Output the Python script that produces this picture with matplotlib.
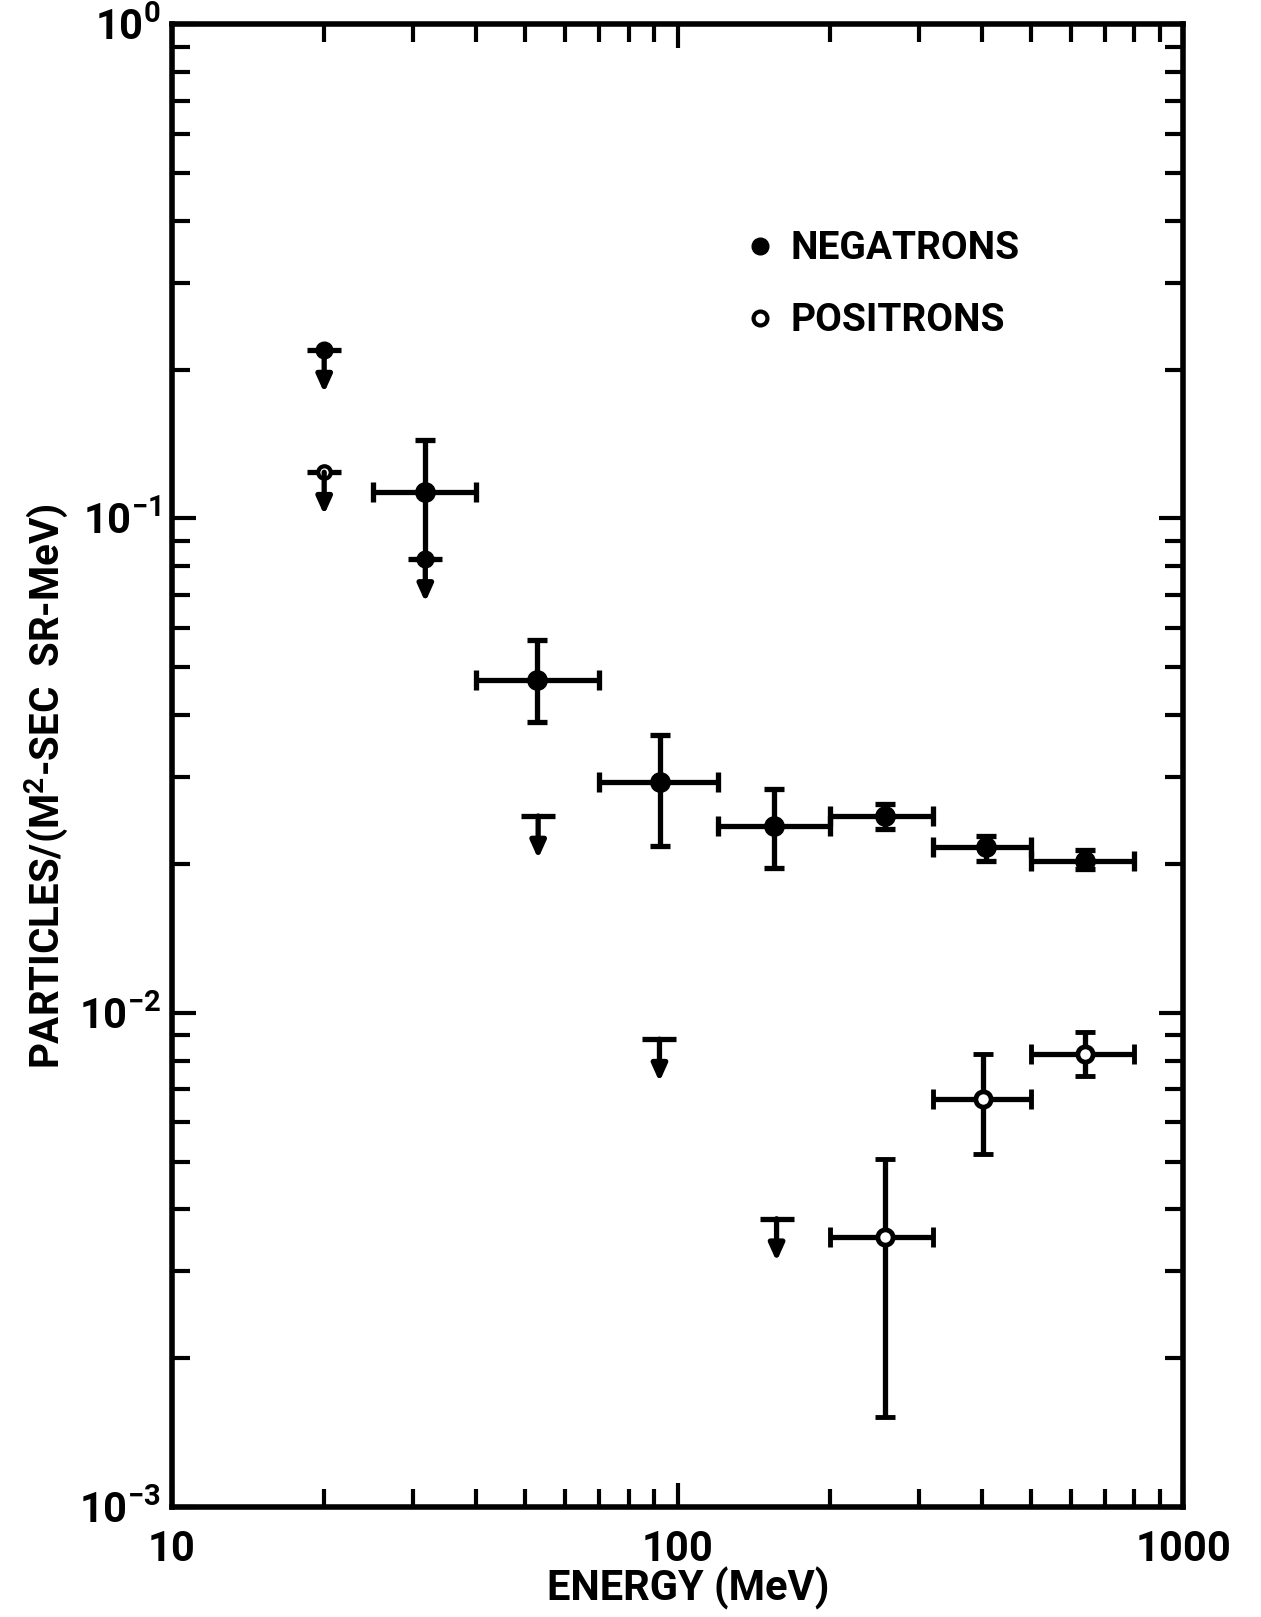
import matplotlib
matplotlib.use("Agg")
import matplotlib.pyplot as plt
from matplotlib.lines import Line2D
from matplotlib.ticker import LogLocator, NullFormatter

plt.rcParams['font.family'] = ['Roboto', 'DejaVu Sans']

# negatrons: bin centre, bin edges, flux and flux error range
neg_energy = [31.7, 52.8, 92.4, 155, 257, 407, 641]
neg_e_lo = [25, 40, 70, 120, 200, 320, 500]
neg_e_hi = [40, 70, 120, 200, 320, 500, 800]
neg_flux = [0.113, 0.0472, 0.0293, 0.0239, 0.0250, 0.0216, 0.0203]
neg_flux_lo = [0.0826, 0.0388, 0.0217, 0.0196, 0.0235, 0.0203, 0.0195]
neg_flux_hi = [0.144, 0.0568, 0.0364, 0.0283, 0.0265, 0.0228, 0.0213]

# positrons
pos_energy = [257, 402, 640]
pos_e_lo = [200, 320, 500]
pos_e_hi = [320, 500, 800]
pos_flux = [0.00352, 0.0067, 0.00826]
pos_flux_lo = [0.00152, 0.00518, 0.00746]
pos_flux_hi = [0.00506, 0.00826, 0.00915]

# upper limits
neg_limit_energy = [20.0, 31.7]
neg_limit_flux = [0.219, 0.0826]
pos_limit_energy = [20.0]
pos_limit_flux = [0.124]
bare_limit_energy = [53.0, 92.1, 157]
bare_limit_flux = [0.0250, 0.00884, 0.00383]

legend_labels = ["NEGATRONS", "POSITRONS"]
x_ticks = [10, 100, 1000]
x_tick_labels = ["10", "100", "1000"]
y_ticks = [1e-3, 1e-2, 1e-1, 1]
y_tick_labels = [r"$\mathregular{10^{-3}}$", r"$\mathregular{10^{-2}}$",
                 r"$\mathregular{10^{-1}}$", r"$\mathregular{10^{0}}$"]

ARROW = 0.82  # arrow tip as a fraction of the limit value
LW = 3.8


def asym(centre, lo, hi):
    return [[c - l for c, l in zip(centre, lo)], [h - c for c, h in zip(centre, hi)]]


fig = plt.figure(figsize=(12.61, 16.17), dpi=100)
ax = fig.add_axes([0.1364, 0.068, 0.8018, 0.9171])
ax.set_xscale('log')
ax.set_yscale('log')
ax.set_xlim(10, 1000)
ax.set_ylim(1e-3, 1)

ax.errorbar(neg_energy, neg_flux,
            xerr=asym(neg_energy, neg_e_lo, neg_e_hi),
            yerr=asym(neg_flux, neg_flux_lo, neg_flux_hi),
            fmt='o', color='black', ms=14, elinewidth=LW, capsize=7, capthick=LW)
ax.errorbar(pos_energy, pos_flux,
            xerr=asym(pos_energy, pos_e_lo, pos_e_hi),
            yerr=asym(pos_flux, pos_flux_lo, pos_flux_hi),
            fmt='o', mfc='white', mec='black', ecolor='black', ms=11, mew=3.5,
            elinewidth=LW, capsize=7, capthick=LW)

all_lim_e = neg_limit_energy + pos_limit_energy + bare_limit_energy
all_lim_f = neg_limit_flux + pos_limit_flux + bare_limit_flux
for e, f in zip(all_lim_e, all_lim_f):
    ax.annotate('', xy=(e, f * ARROW), xytext=(e, f),
                arrowprops=dict(arrowstyle='-|>,head_length=1.0,head_width=0.45',
                                lw=LW, color='black', shrinkA=0, shrinkB=0))
ax.plot(all_lim_e, all_lim_f, ls='none', marker='_', ms=25, mew=LW, color='black')
ax.plot(neg_limit_energy, neg_limit_flux, ls='none', marker='o', ms=12, color='black')
ax.plot(pos_limit_energy, pos_limit_flux, ls='none', marker='o', ms=9,
        mfc='white', mec='black', mew=3)

handles = [Line2D([], [], ls='none', marker='o', color='black', ms=12),
           Line2D([], [], ls='none', marker='o', mfc='white', mec='black', ms=10, mew=3)]
ax.legend(handles, legend_labels, loc='upper left', bbox_to_anchor=(0.566, 0.861),
          frameon=False, prop=dict(weight='bold', size=28), handlelength=0.8,
          handletextpad=0.4, labelspacing=0.9, borderpad=0, borderaxespad=0)

ax.set_xticks(x_ticks, labels=x_tick_labels)
ax.set_yticks(y_ticks, labels=y_tick_labels)
ax.xaxis.set_minor_locator(LogLocator(base=10, subs=range(2, 10)))
ax.yaxis.set_minor_locator(LogLocator(base=10, subs=range(2, 10)))
ax.xaxis.set_minor_formatter(NullFormatter())
ax.yaxis.set_minor_formatter(NullFormatter())
ax.tick_params(which='both', direction='in', top=True, right=True, width=3)
ax.tick_params(which='major', length=17)
ax.tick_params(which='minor', length=13)
ax.tick_params(axis='x', labelsize=30, pad=16)
ax.tick_params(axis='y', labelsize=30, pad=8)
for lab in ax.get_xticklabels() + ax.get_yticklabels():
    lab.set_fontweight('bold')
for s in ax.spines.values():
    s.set_linewidth(4)

fig.text(0.5456, 0.018, "ENERGY (MeV)", ha='center', va='center',
         fontsize=30, weight='bold')
fig.text(0.0365, 0.514, r"PARTICLES/(M$\mathregular{^2}$-SEC  SR-MeV)",
         ha='center', va='center', rotation=90, fontsize=29, weight='bold')

fig.savefig('out.png', dpi=100)
